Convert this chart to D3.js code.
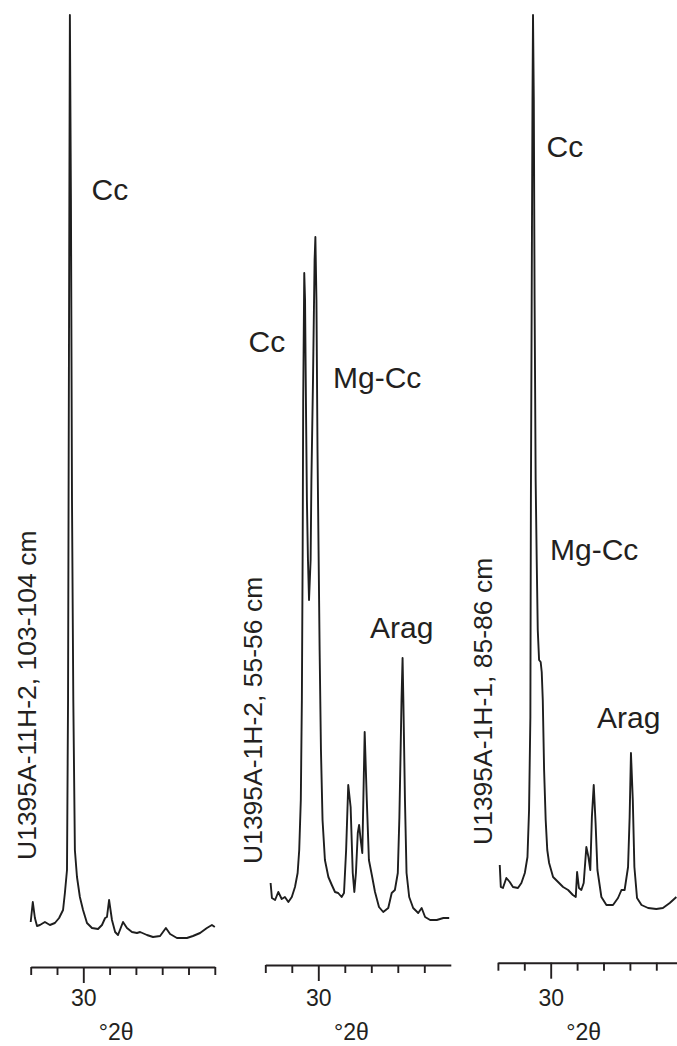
<!DOCTYPE html>
<html>
<head>
<meta charset="utf-8">
<script src="https://cdn.jsdelivr.net/npm/d3@7"></script>
<style>
  html, body { margin: 0; padding: 0; background: #fff; }
  svg { display: block; }
  text { font-family: "Liberation Sans", Arial, Helvetica, sans-serif; fill: #231f20; }
</style>
</head>
<body>
<svg id="chart" width="677" height="1046"></svg>
<script>
// X-ray diffractograms of three carbonate samples (°2θ vs. intensity, arbitrary units)

const sampleNames = ["U1395A-11H-2, 103-104 cm", "U1395A-1H-2, 55-56 cm", "U1395A-1H-1, 85-86 cm"];

// Sample 1: U1395A-11H-2, 103-104 cm
const s1TwoTheta = [28.00, 28.08, 28.16, 28.24, 28.35, 28.54, 28.73, 28.92, 29.08, 29.23, 29.30, 29.38,
  29.42, 29.44, 29.47, 29.49, 29.53, 29.57, 29.62, 29.68, 29.76, 29.87, 29.99, 30.14, 30.33, 30.56,
  30.71, 30.83, 30.90, 30.98, 31.09, 31.21, 31.32, 31.51, 31.66, 31.85, 32.04, 32.16, 32.42, 32.65,
  32.92, 33.14, 33.30, 33.56, 33.94, 34.17, 34.44, 34.70, 34.89, 35.00];
const s1Intensity = [38, 58, 42, 34, 35, 38, 35, 37, 42, 50, 67, 90,
  260, 460, 760, 945, 760, 460, 260, 110, 83, 63, 50, 37, 32, 31,
  35, 42, 43, 60, 40, 28, 25, 38, 32, 28, 27, 28, 25, 23,
  24, 32, 26, 22, 22, 24, 27, 32, 35, 33];

// Sample 2: U1395A-1H-2, 55-56 cm
const s2TwoTheta = [28.20, 28.25, 28.37, 28.49, 28.62, 28.74, 28.87, 29.00, 29.12, 29.22, 29.28, 29.34,
  29.38, 29.41, 29.43, 29.47, 29.50, 29.54, 29.57, 29.61, 29.65, 29.71, 29.74, 29.80, 29.86, 29.89,
  29.93, 29.97, 30.01, 30.05, 30.10, 30.16, 30.25, 30.38, 30.51, 30.63, 30.75, 30.88, 30.97, 31.05,
  31.13, 31.22, 31.30, 31.36, 31.42, 31.49, 31.54, 31.60, 31.66, 31.70, 31.75, 31.83, 31.91, 32.02,
  32.14, 32.29, 32.45, 32.64, 32.77, 32.89, 33.00, 33.06, 33.10, 33.14, 33.18, 33.21, 33.27, 33.33,
  33.43, 33.58, 33.77, 33.90, 34.03, 34.22, 34.47, 34.72, 34.94];
const s2Intensity = [77, 62, 60, 68, 61, 63, 58, 63, 73, 87, 110, 160,
  260, 410, 560, 687, 660, 540, 460, 400, 360, 400, 480, 580, 700, 723,
  660, 510, 410, 310, 210, 140, 100, 83, 75, 68, 67, 63, 67, 110,
  175, 153, 87, 68, 87, 127, 135, 120, 107, 160, 228, 160, 100, 85,
  68, 53, 48, 52, 67, 70, 87, 143, 200, 260, 302, 260, 160, 87,
  63, 52, 47, 52, 43, 40, 40, 42, 42];

// Sample 3: U1395A-1H-1, 85-86 cm
const s3TwoTheta = [28.07, 28.11, 28.19, 28.32, 28.45, 28.57, 28.76, 28.89, 29.02, 29.12, 29.18, 29.23,
  29.25, 29.28, 29.31, 29.33, 29.36, 29.39, 29.43, 29.47, 29.51, 29.56, 29.62, 29.66, 29.70, 29.75,
  29.81, 29.87, 29.94, 30.09, 30.28, 30.47, 30.66, 30.84, 30.95, 31.00, 31.07, 31.16, 31.25, 31.35,
  31.43, 31.50, 31.56, 31.63, 31.70, 31.77, 31.92, 32.11, 32.36, 32.55, 32.68, 32.80, 32.93, 32.99,
  33.04, 33.11, 33.17, 33.27, 33.44, 33.69, 34.00, 34.25, 34.51, 34.76];
const s3Intensity = [95, 73, 72, 82, 78, 73, 72, 77, 87, 103, 150, 243,
  460, 660, 860, 945, 860, 660, 480, 400, 330, 300, 298, 288, 260, 190,
  140, 110, 97, 83, 78, 73, 70, 65, 63, 88, 72, 70, 77, 113,
  103, 90, 143, 175, 137, 90, 63, 55, 55, 62, 70, 70, 93, 143,
  207, 160, 93, 62, 55, 52, 51, 52, 57, 63];

// Axis ticks (°2θ); only 30 carries a label
const ticksFull = [28, 29, 30, 31, 32, 33, 34, 35];
const ticksShort = [28, 29, 30, 31, 32, 33, 34];
const labelledTick = 30;

// Phase annotations per sample
const phases1 = ["Cc"];
const phases2 = ["Cc", "Mg-Cc", "Arag"];
const phases3 = ["Cc", "Mg-Cc", "Arag"];

const svg = d3.select("#chart");

// Shared intensity scale
const y = d3.scaleLinear().domain([0, 1000]).range([960, -40]);

const panels = [
  { tt: s1TwoTheta, int: s1Intensity, name: sampleNames[0], ticks: ticksFull, phases: phases1,
    range: [30.7, 214.8], axisY: 967,
    nameX: 36, nameY: 860,
    labelPos: [[91.5, 200]] },
  { tt: s2TwoTheta, int: s2Intensity, name: sampleNames[1], ticks: ticksShort, phases: phases2,
    range: [265.3, 450.8], axisY: 965,
    nameX: 262, nameY: 864,
    labelPos: [[248.5, 352], [333, 388], [370, 638]] },
  { tt: s3TwoTheta, int: s3Intensity, name: sampleNames[2], ticks: ticksShort, phases: phases3,
    range: [497.9, 682.7], axisY: 962.7,
    nameX: 492, nameY: 845,
    labelPos: [[546.5, 157], [550, 560], [597, 728]] }
];

panels.forEach(p => {
  const x = d3.scaleLinear().domain([28, 35]).range(p.range);
  const g = svg.append("g");

  // diffractogram trace
  const pts = p.tt.map((t, i) => [t, p.int[i]]);
  const line = d3.line().x(d => x(d[0])).y(d => y(d[1])).curve(d3.curveLinear);
  g.append("path")
    .datum(pts)
    .attr("d", line)
    .attr("fill", "none")
    .attr("stroke", "#1e1e1e")
    .attr("stroke-width", 1.9)
    .attr("stroke-linejoin", "round");

  // bottom axis
  const axis = d3.axisBottom(x)
    .tickValues(p.ticks)
    .tickSizeInner(8)
    .tickSizeOuter(0)
    .tickPadding(16)
    .tickFormat(d => d === labelledTick ? String(d) : "");
  const ag = g.append("g")
    .attr("transform", `translate(0,${p.axisY})`)
    .call(axis);
  ag.select(".domain").attr("stroke", "#231f20").attr("stroke-width", 1.9);
  ag.selectAll(".tick line").attr("stroke", "#231f20").attr("stroke-width", 1.9);
  ag.selectAll(".tick").filter(d => d === labelledTick).select("line").attr("y2", 16);
  ag.selectAll(".tick text")
    .attr("y", 1006 - p.axisY)
    .attr("dy", 0)
    .style("font-family", "\"Liberation Sans\", Arial, Helvetica, sans-serif")
    .style("font-size", "23px")
    .attr("fill", "#231f20");

  // axis title
  g.append("text")
    .attr("x", x(31.25))
    .attr("y", 1040)
    .attr("text-anchor", "middle")
    .style("font-size", "23px")
    .text("°2θ");

  // sample name, vertical
  g.append("text")
    .attr("transform", `translate(${p.nameX},${p.nameY}) rotate(-90)`)
    .style("font-size", "26.5px")
    .text(p.name);

  // phase labels
  p.phases.forEach((ph, i) => {
    g.append("text")
      .attr("x", p.labelPos[i][0])
      .attr("y", p.labelPos[i][1])
      .style("font-size", "30px")
      .text(ph);
  });
});
</script>
</body>
</html>
